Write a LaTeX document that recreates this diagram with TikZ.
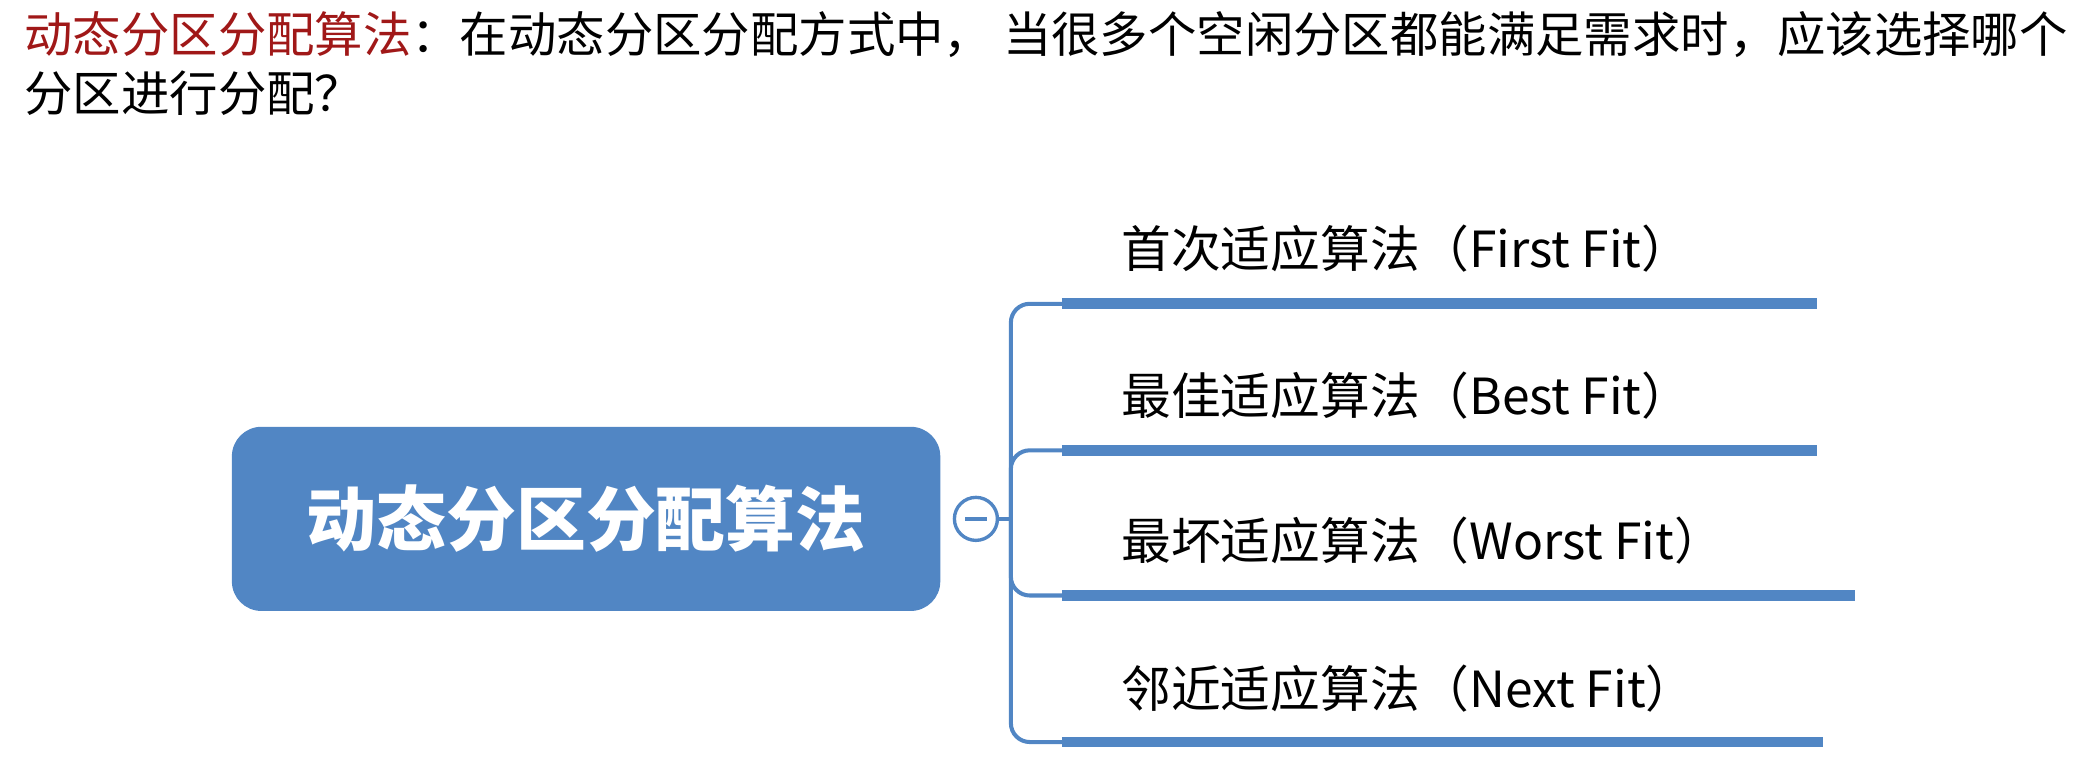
\documentclass[tikz,border=0pt]{standalone}
\usepackage{fontspec}
\setmainfont{Noto Sans CJK SC}
\usetikzlibrary{positioning}
\definecolor{mapblue}{HTML}{5186C4}
\definecolor{titlered}{HTML}{A01818}
\tikzset{
    %root topic
    roottopic/.style={
           rectangle,
           rounded corners=22pt,
           fill=mapblue,
           text=white,
           minimum width=527pt,
           minimum height=137pt,
           font=\fontsize{52}{60}\selectfont\bfseries},
    %branch labels
    subtopic/.style={
           anchor=base west,
           inner sep=0pt,
           font=\fontsize{37}{44}\selectfont},
    %bar under each label
    bar/.style={line width=8pt, mapblue},
    link/.style={line width=3pt, mapblue, rounded corners=14pt}
}
\begin{document}
\begin{tikzpicture}[x=1pt,y=-1pt]
\useasboundingbox (0,0) rectangle (1560,581);
\node[anchor=north west, align=left, inner sep=0pt,
      font=\fontsize{36}{44}\selectfont] (title) at (18,8)
  {\textcolor{titlered}{动态分区分配算法}：在动态分区分配方式中， 当很多个空闲分区都能满足需求时，应该选择哪个\\分区进行分配？};
\node[roottopic] (root) at (436,386) {动态分区分配算法};
\node[circle, draw=mapblue, line width=2.5pt, fill=white, minimum size=32pt, inner sep=0pt] (fold) at (726,386) {};
\draw[mapblue, line width=2.5pt] ([xshift=-8pt]fold.center) -- ([xshift=8pt]fold.center);
\coordinate (hub) at (752,386);
\draw[link, rounded corners=0pt] (fold.east) -- (hub);
%bars
\coordinate (b1s) at (790,226); \coordinate (b1e) at (1352,226);
\coordinate (b2s) at (790,335); \coordinate (b2e) at (1352,335);
\coordinate (b3s) at (790,443); \coordinate (b3e) at (1380,443);
\coordinate (b4s) at (790,552); \coordinate (b4e) at (1356,552);
\foreach \i in {1,...,4}{
  \draw[bar] (b\i s) -- (b\i e);
}
\draw[link] (b1s) -- (752,226) -- (752,552) -- (b4s);
\draw[link] (hub) |- (b2s);
\draw[link] (hub) |- (b3s);
%labels
\node[subtopic] (first) at (834,199) {首次适应算法（First Fit）};
\node[subtopic] (best) at (834,308) {最佳适应算法（Best Fit）};
\node[subtopic] (worst) at (834,416) {最坏适应算法（Worst Fit）};
\node[subtopic] (next) at (834,526) {邻近适应算法（Next Fit）};
\end{tikzpicture}
\end{document}
